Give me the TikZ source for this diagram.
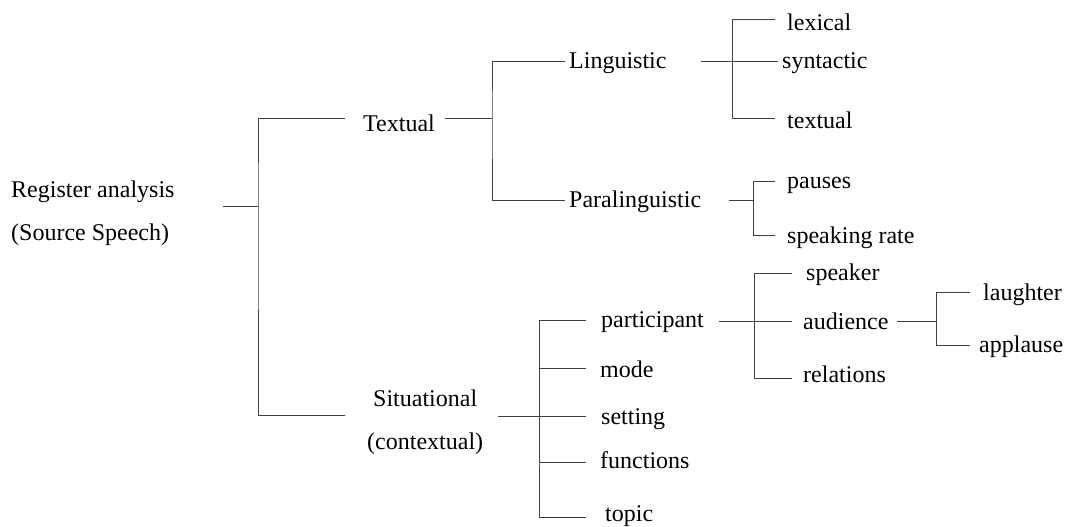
\documentclass[tikz,border=0pt]{standalone}
\usepackage{fontspec}
\setmainfont{Liberation Serif}
\begin{document}
\begin{tikzpicture}[x=1pt,y=-1pt]\tikzstyle{every node} = [anchor=base west,inner sep=0pt,font=\fontsize{24}{28}\selectfont]
      \tikzstyle{bracket} = [draw=black!75,line width=0.8pt]
      \useasboundingbox (0,0) rectangle (1065,527);

      % labels
      \node (reg)  at (11,197)  {Register analysis};
      \node (src)  at (11,240)  {(Source Speech)};
      \node (textual) at (363,131) {Textual};
      \node (situ) at (373,406) {Situational};
      \node (ctx)  at (367,449) {(contextual)};
      \node (ling) at (569,68)  {Linguistic};
      \node (para) at (569,207) {Paralinguistic};
      \node (lex)  at (787,31)  {lexical};
      \node (syn)  at (782,68)  {syntactic};
      \node (txt)  at (787,128) {textual};
      \node (pau)  at (787,188) {pauses};
      \node (rate) at (787,243) {speaking rate};
      \node (part) at (601,327) {participant};
      \node (mode) at (600,377) {mode};
      \node (sett) at (601,424) {setting};
      \node (func) at (600,468) {functions};
      \node (topic) at (605,521) {topic};
      \node (spk)  at (806,280) {speaker};
      \node (aud)  at (803,329) {audience};
      \node (rel)  at (803,382) {relations};
      \node (laugh) at (983,300) {laughter};
      \node (appl) at (979,352) {applause};

      % line ends and spines
      \coordinate (reg-o) at (223,206);   \coordinate (reg-s) at (258,206);
      \coordinate (textual-i) at (345,118); \coordinate (situ-i) at (345,415);
      \coordinate (textual-o) at (445,118); \coordinate (textual-s) at (492,118);
      \coordinate (ling-i) at (565,61);   \coordinate (para-i) at (565,200);
      \coordinate (ling-o) at (701,61);   \coordinate (ling-s) at (732,61);
      \coordinate (lex-i) at (775,19);    \coordinate (syn-i) at (778,61);
      \coordinate (txt-i) at (775,118);
      \coordinate (para-o) at (729,200);  \coordinate (para-s) at (753,200);
      \coordinate (pau-i) at (775,181);   \coordinate (rate-i) at (775,235);
      \coordinate (situ-o) at (498,416);  \coordinate (situ-s) at (539,416);
      \coordinate (part-i) at (586,320);  \coordinate (mode-i) at (586,368);
      \coordinate (sett-i) at (586,416);  \coordinate (func-i) at (586,462);
      \coordinate (topic-i) at (586,517);
      \coordinate (part-o) at (719,321);  \coordinate (part-s) at (754,321);
      \coordinate (spk-i) at (792,273);   \coordinate (aud-i) at (792,321);
      \coordinate (rel-i) at (792,378);
      \coordinate (aud-o) at (897,321);   \coordinate (aud-s) at (936,321);
      \coordinate (laugh-i) at (970,292); \coordinate (appl-i) at (970,345);

      % brackets
      \draw[bracket] (reg-o) -- (reg-s);
      \draw[bracket] (textual-i) -| (reg-s) |- (situ-i);

      \draw[bracket] (textual-o) -- (textual-s);
      \draw[bracket] (ling-i) -| (textual-s) |- (para-i);

      \draw[bracket] (ling-o) -- (syn-i);
      \draw[bracket] (lex-i) -| (ling-s) |- (txt-i);

      \draw[bracket] (para-o) -- (para-s);
      \draw[bracket] (pau-i) -| (para-s) |- (rate-i);

      \draw[bracket] (situ-o) -- (sett-i);
      \draw[bracket] (part-i) -| (situ-s) |- (topic-i);
      \draw[bracket] (mode-i) -| (situ-s);
      \draw[bracket] (func-i) -| (situ-s);

      \draw[bracket] (part-o) -- (aud-i);
      \draw[bracket] (spk-i) -| (part-s) |- (rel-i);

      \draw[bracket] (aud-o) -- (aud-s);
      \draw[bracket] (laugh-i) -| (aud-s) |- (appl-i);
    \end{tikzpicture}
\end{document}
